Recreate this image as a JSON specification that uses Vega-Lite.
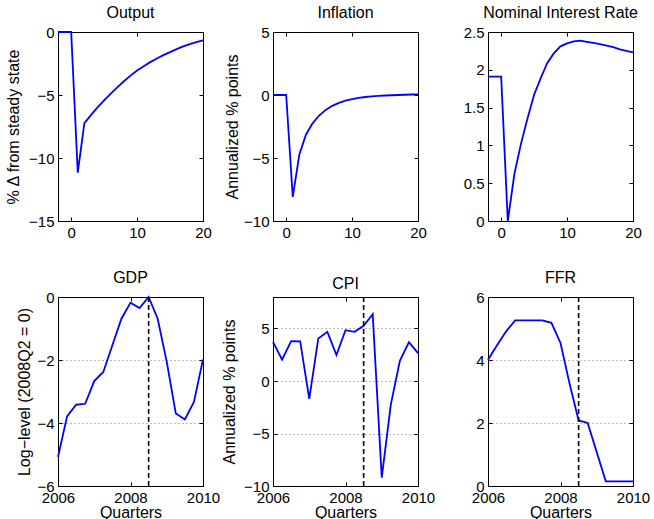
{
  "$schema": "https://vega.github.io/schema/vega-lite/v6.json",
  "padding": {"left": 5, "top": 4, "right": 0, "bottom": 0},
  "background": "white",
  "bounds": "flush",
  "columns": 3,
  "spacing": {"row": 76, "column": 70},
  "datasets": {
    "irf": [
      {"s": "Output", "t": -2, "v": 0}, {"s": "Output", "t": -1, "v": 0}, {"s": "Output", "t": 0, "v": 0},
      {"s": "Output", "t": 1, "v": -11.17}, {"s": "Output", "t": 2, "v": -7.23}, {"s": "Output", "t": 3, "v": -6.6},
      {"s": "Output", "t": 4, "v": -5.98}, {"s": "Output", "t": 5, "v": -5.43}, {"s": "Output", "t": 6, "v": -4.89},
      {"s": "Output", "t": 7, "v": -4.39}, {"s": "Output", "t": 8, "v": -3.91}, {"s": "Output", "t": 9, "v": -3.46},
      {"s": "Output", "t": 10, "v": -3.06}, {"s": "Output", "t": 11, "v": -2.71}, {"s": "Output", "t": 12, "v": -2.39},
      {"s": "Output", "t": 13, "v": -2.1}, {"s": "Output", "t": 14, "v": -1.84}, {"s": "Output", "t": 15, "v": -1.6},
      {"s": "Output", "t": 16, "v": -1.36}, {"s": "Output", "t": 17, "v": -1.14}, {"s": "Output", "t": 18, "v": -0.96},
      {"s": "Output", "t": 19, "v": -0.8}, {"s": "Output", "t": 20, "v": -0.66},
      {"s": "Inflation", "t": -2, "v": 0}, {"s": "Inflation", "t": -1, "v": 0}, {"s": "Inflation", "t": 0, "v": 0},
      {"s": "Inflation", "t": 1, "v": -8.09}, {"s": "Inflation", "t": 2, "v": -4.71}, {"s": "Inflation", "t": 3, "v": -3.15},
      {"s": "Inflation", "t": 4, "v": -2.25}, {"s": "Inflation", "t": 5, "v": -1.63}, {"s": "Inflation", "t": 6, "v": -1.18},
      {"s": "Inflation", "t": 7, "v": -0.86}, {"s": "Inflation", "t": 8, "v": -0.62}, {"s": "Inflation", "t": 9, "v": -0.45},
      {"s": "Inflation", "t": 10, "v": -0.32}, {"s": "Inflation", "t": 11, "v": -0.23}, {"s": "Inflation", "t": 12, "v": -0.16},
      {"s": "Inflation", "t": 13, "v": -0.11}, {"s": "Inflation", "t": 14, "v": -0.07}, {"s": "Inflation", "t": 15, "v": -0.04},
      {"s": "Inflation", "t": 16, "v": -0.02}, {"s": "Inflation", "t": 17, "v": 0.0}, {"s": "Inflation", "t": 18, "v": 0.02},
      {"s": "Inflation", "t": 19, "v": 0.04}, {"s": "Inflation", "t": 20, "v": 0.05},
      {"s": "NIR", "t": -2, "v": 1.91}, {"s": "NIR", "t": -1, "v": 1.91}, {"s": "NIR", "t": 0, "v": 1.91},
      {"s": "NIR", "t": 1, "v": 0.0}, {"s": "NIR", "t": 2, "v": 0.62}, {"s": "NIR", "t": 3, "v": 1.02},
      {"s": "NIR", "t": 4, "v": 1.36}, {"s": "NIR", "t": 5, "v": 1.67}, {"s": "NIR", "t": 6, "v": 1.89},
      {"s": "NIR", "t": 7, "v": 2.09}, {"s": "NIR", "t": 8, "v": 2.22}, {"s": "NIR", "t": 9, "v": 2.31},
      {"s": "NIR", "t": 10, "v": 2.35}, {"s": "NIR", "t": 11, "v": 2.376}, {"s": "NIR", "t": 12, "v": 2.385},
      {"s": "NIR", "t": 13, "v": 2.37}, {"s": "NIR", "t": 14, "v": 2.355}, {"s": "NIR", "t": 15, "v": 2.34},
      {"s": "NIR", "t": 16, "v": 2.32}, {"s": "NIR", "t": 17, "v": 2.3}, {"s": "NIR", "t": 18, "v": 2.27},
      {"s": "NIR", "t": 19, "v": 2.25}, {"s": "NIR", "t": 20, "v": 2.23}
    ],
    "hist": [
      {"s": "GDP", "d": 2006.0, "v": -5.08}, {"s": "GDP", "d": 2006.25, "v": -3.79}, {"s": "GDP", "d": 2006.5, "v": -3.42},
      {"s": "GDP", "d": 2006.75, "v": -3.39}, {"s": "GDP", "d": 2007.0, "v": -2.67}, {"s": "GDP", "d": 2007.25, "v": -2.38},
      {"s": "GDP", "d": 2007.5, "v": -1.53}, {"s": "GDP", "d": 2007.75, "v": -0.69}, {"s": "GDP", "d": 2008.0, "v": -0.18},
      {"s": "GDP", "d": 2008.25, "v": -0.35}, {"s": "GDP", "d": 2008.5, "v": 0.0}, {"s": "GDP", "d": 2008.75, "v": -0.69},
      {"s": "GDP", "d": 2009.0, "v": -2.06}, {"s": "GDP", "d": 2009.25, "v": -3.7}, {"s": "GDP", "d": 2009.5, "v": -3.89},
      {"s": "GDP", "d": 2009.75, "v": -3.33}, {"s": "GDP", "d": 2010.0, "v": -1.98},
      {"s": "CPI", "d": 2006.0, "v": 3.73}, {"s": "CPI", "d": 2006.25, "v": 2.03}, {"s": "CPI", "d": 2006.5, "v": 3.8},
      {"s": "CPI", "d": 2006.75, "v": 3.77}, {"s": "CPI", "d": 2007.0, "v": -1.71}, {"s": "CPI", "d": 2007.25, "v": 4.05},
      {"s": "CPI", "d": 2007.5, "v": 4.68}, {"s": "CPI", "d": 2007.75, "v": 2.47}, {"s": "CPI", "d": 2008.0, "v": 4.84},
      {"s": "CPI", "d": 2008.25, "v": 4.68}, {"s": "CPI", "d": 2008.5, "v": 5.25}, {"s": "CPI", "d": 2008.75, "v": 6.36},
      {"s": "CPI", "d": 2009.0, "v": -9.2}, {"s": "CPI", "d": 2009.25, "v": -2.25}, {"s": "CPI", "d": 2009.5, "v": 1.93},
      {"s": "CPI", "d": 2009.75, "v": 3.7}, {"s": "CPI", "d": 2010.0, "v": 2.66},
      {"s": "FFR", "d": 2006.0, "v": 4.01}, {"s": "FFR", "d": 2006.25, "v": 4.47}, {"s": "FFR", "d": 2006.5, "v": 4.91},
      {"s": "FFR", "d": 2006.75, "v": 5.26}, {"s": "FFR", "d": 2007.0, "v": 5.26}, {"s": "FFR", "d": 2007.25, "v": 5.26},
      {"s": "FFR", "d": 2007.5, "v": 5.26}, {"s": "FFR", "d": 2007.75, "v": 5.18}, {"s": "FFR", "d": 2008.0, "v": 4.54},
      {"s": "FFR", "d": 2008.25, "v": 3.25}, {"s": "FFR", "d": 2008.5, "v": 2.08}, {"s": "FFR", "d": 2008.75, "v": 2.0},
      {"s": "FFR", "d": 2009.0, "v": 1.07}, {"s": "FFR", "d": 2009.25, "v": 0.15}, {"s": "FFR", "d": 2009.5, "v": 0.15},
      {"s": "FFR", "d": 2009.75, "v": 0.15}, {"s": "FFR", "d": 2010.0, "v": 0.15}
    ]
  },
  "concat": [
    {
      "title": {"text": "Output"},
      "width": 145, "height": 189,
      "data": {"name": "irf"},
      "transform": [{"filter": "datum.s === 'Output'"}],
      "layer": [
        {"mark": {"type": "line", "color": "#0000ff", "strokeWidth": 1.8},
         "encoding": {
           "x": {"field": "t", "type": "quantitative", "scale": {"domain": [-2, 20], "nice": false, "zero": false}, "axis": {"values": [0, 10, 20], "title": null, "format": "~r"}},
           "y": {"field": "v", "type": "quantitative", "scale": {"domain": [-15, 0], "nice": false}, "axis": {"values": [-15, -10, -5, 0], "format": "~r", "title": "% Δ from steady state", "titlePadding": 7}}
         }},
        {"mark": {"type": "line", "opacity": 0},
         "encoding": {
           "x": {"field": "t", "type": "quantitative", "scale": {"domain": [-2, 20], "nice": false, "zero": false}, "axis": {"orient": "top", "values": [0, 10, 20], "labels": false, "title": null}},
           "y": {"field": "v", "type": "quantitative", "scale": {"domain": [-15, 0], "nice": false}, "axis": {"orient": "right", "values": [-15, -10, -5, 0], "labels": false, "title": null}}
         }}
      ],
      "resolve": {"axis": {"x": "independent", "y": "independent"}}
    },
    {
      "title": {"text": "Inflation"},
      "width": 145, "height": 189,
      "data": {"name": "irf"},
      "transform": [{"filter": "datum.s === 'Inflation'"}],
      "layer": [
        {"mark": {"type": "line", "color": "#0000ff", "strokeWidth": 1.8},
         "encoding": {
           "x": {"field": "t", "type": "quantitative", "scale": {"domain": [-2, 20], "nice": false, "zero": false}, "axis": {"values": [0, 10, 20], "title": null, "format": "~r"}},
           "y": {"field": "v", "type": "quantitative", "scale": {"domain": [-10, 5], "nice": false}, "axis": {"values": [-10, -5, 0, 5], "format": "~r", "title": "Annualized % points", "titlePadding": 3}}
         }},
        {"mark": {"type": "line", "opacity": 0},
         "encoding": {
           "x": {"field": "t", "type": "quantitative", "scale": {"domain": [-2, 20], "nice": false, "zero": false}, "axis": {"orient": "top", "values": [0, 10, 20], "labels": false, "title": null}},
           "y": {"field": "v", "type": "quantitative", "scale": {"domain": [-10, 5], "nice": false}, "axis": {"orient": "right", "values": [-10, -5, 0, 5], "labels": false, "title": null}}
         }}
      ],
      "resolve": {"axis": {"x": "independent", "y": "independent"}}
    },
    {
      "title": {"text": "Nominal Interest Rate"},
      "width": 145, "height": 189,
      "data": {"name": "irf"},
      "transform": [{"filter": "datum.s === 'NIR'"}],
      "layer": [
        {"mark": {"type": "line", "color": "#0000ff", "strokeWidth": 1.8},
         "encoding": {
           "x": {"field": "t", "type": "quantitative", "scale": {"domain": [-2, 20], "nice": false, "zero": false}, "axis": {"values": [0, 10, 20], "title": null, "format": "~r"}},
           "y": {"field": "v", "type": "quantitative", "scale": {"domain": [0, 2.5], "nice": false}, "axis": {"values": [0, 0.5, 1, 1.5, 2, 2.5], "format": "~r", "title": null}}
         }},
        {"mark": {"type": "line", "opacity": 0},
         "encoding": {
           "x": {"field": "t", "type": "quantitative", "scale": {"domain": [-2, 20], "nice": false, "zero": false}, "axis": {"orient": "top", "values": [0, 10, 20], "labels": false, "title": null}},
           "y": {"field": "v", "type": "quantitative", "scale": {"domain": [0, 2.5], "nice": false}, "axis": {"orient": "right", "values": [0, 0.5, 1, 1.5, 2, 2.5], "labels": false, "title": null}}
         }}
      ],
      "resolve": {"axis": {"x": "independent", "y": "independent"}}
    },
    {
      "title": {"text": "GDP"},
      "width": 145, "height": 189,
      "data": {"name": "hist"},
      "layer": [
        {"transform": [{"filter": "datum.s === 'GDP'"}],
         "mark": {"type": "line", "color": "#0000ff", "strokeWidth": 1.8},
         "encoding": {
           "x": {"field": "d", "type": "quantitative", "scale": {"domain": [2006, 2010], "nice": false, "zero": false}, "axis": {"values": [2006, 2008, 2010], "format": "d", "title": "Quarters", "titlePadding": -1}},
           "y": {"field": "v", "type": "quantitative", "scale": {"domain": [-6, 0], "nice": false}, "axis": {"values": [-6, -4, -2, 0], "format": "~r", "grid": true, "title": "Log−level (2008Q2 = 0)", "titlePadding": 4}}
         }},
        {"transform": [{"filter": "datum.s === 'GDP'"}],
         "mark": {"type": "line", "opacity": 0},
         "encoding": {
           "x": {"field": "d", "type": "quantitative", "scale": {"domain": [2006, 2010], "nice": false, "zero": false}, "axis": {"orient": "top", "values": [2006, 2008, 2010], "labels": false, "title": null}},
           "y": {"field": "v", "type": "quantitative", "scale": {"domain": [-6, 0], "nice": false}, "axis": {"orient": "right", "values": [-6, -4, -2, 0], "labels": false, "title": null}}
         }},
        {"data": {"values": [{"d": 2008.5}]},
         "mark": {"type": "rule", "color": "black", "strokeDash": [5, 3], "strokeWidth": 1.6},
         "encoding": {"x": {"field": "d", "type": "quantitative", "scale": {"domain": [2006, 2010], "nice": false, "zero": false}, "axis": null}}}
      ],
      "resolve": {"axis": {"x": "independent", "y": "independent"}}
    },
    {
      "title": {"text": "CPI"},
      "width": 145, "height": 189,
      "data": {"name": "hist"},
      "layer": [
        {"transform": [{"filter": "datum.s === 'CPI'"}],
         "mark": {"type": "line", "color": "#0000ff", "strokeWidth": 1.8},
         "encoding": {
           "x": {"field": "d", "type": "quantitative", "scale": {"domain": [2006, 2010], "nice": false, "zero": false}, "axis": {"values": [2006, 2008, 2010], "format": "d", "title": "Quarters", "titlePadding": -1}},
           "y": {"field": "v", "type": "quantitative", "scale": {"domain": [-10, 8], "nice": false}, "axis": {"values": [-10, -5, 0, 5], "format": "~r", "grid": true, "title": "Annualized % points", "titlePadding": 6}}
         }},
        {"transform": [{"filter": "datum.s === 'CPI'"}],
         "mark": {"type": "line", "opacity": 0},
         "encoding": {
           "x": {"field": "d", "type": "quantitative", "scale": {"domain": [2006, 2010], "nice": false, "zero": false}, "axis": {"orient": "top", "values": [2006, 2008, 2010], "labels": false, "title": null}},
           "y": {"field": "v", "type": "quantitative", "scale": {"domain": [-10, 8], "nice": false}, "axis": {"orient": "right", "values": [-10, -5, 0, 5], "labels": false, "title": null}}
         }},
        {"data": {"values": [{"d": 2008.5}]},
         "mark": {"type": "rule", "color": "black", "strokeDash": [5, 3], "strokeWidth": 1.6},
         "encoding": {"x": {"field": "d", "type": "quantitative", "scale": {"domain": [2006, 2010], "nice": false, "zero": false}, "axis": null}}}
      ],
      "resolve": {"axis": {"x": "independent", "y": "independent"}}
    },
    {
      "title": {"text": "FFR"},
      "width": 145, "height": 189,
      "data": {"name": "hist"},
      "layer": [
        {"transform": [{"filter": "datum.s === 'FFR'"}],
         "mark": {"type": "line", "color": "#0000ff", "strokeWidth": 1.8},
         "encoding": {
           "x": {"field": "d", "type": "quantitative", "scale": {"domain": [2006, 2010], "nice": false, "zero": false}, "axis": {"values": [2006, 2008, 2010], "format": "d", "title": "Quarters", "titlePadding": -1}},
           "y": {"field": "v", "type": "quantitative", "scale": {"domain": [0, 6], "nice": false}, "axis": {"values": [0, 2, 4, 6], "format": "~r", "grid": true, "title": null}}
         }},
        {"transform": [{"filter": "datum.s === 'FFR'"}],
         "mark": {"type": "line", "opacity": 0},
         "encoding": {
           "x": {"field": "d", "type": "quantitative", "scale": {"domain": [2006, 2010], "nice": false, "zero": false}, "axis": {"orient": "top", "values": [2006, 2008, 2010], "labels": false, "title": null}},
           "y": {"field": "v", "type": "quantitative", "scale": {"domain": [0, 6], "nice": false}, "axis": {"orient": "right", "values": [0, 2, 4, 6], "labels": false, "title": null}}
         }},
        {"data": {"values": [{"d": 2008.5}]},
         "mark": {"type": "rule", "color": "black", "strokeDash": [5, 3], "strokeWidth": 1.6},
         "encoding": {"x": {"field": "d", "type": "quantitative", "scale": {"domain": [2006, 2010], "nice": false, "zero": false}, "axis": null}}}
      ],
      "resolve": {"axis": {"x": "independent", "y": "independent"}}
    }
  ],
  "config": {
    "font": "Liberation Sans",
    "view": {"stroke": "black", "strokeWidth": 1},
    "axis": {
      "domainColor": "black", "domainWidth": 1,
      "tickColor": "black", "tickWidth": 1, "tickSize": -4,
      "labelPadding": 8, "labelFontSize": 15, "labelColor": "black", "labelFont": "Liberation Sans",
      "labelFlush": false, "labelOverlap": false,
      "titleFontSize": 16, "titleFontWeight": "normal", "titleColor": "black", "titleFont": "Liberation Sans",
      "titlePadding": 1,
      "grid": false, "gridColor": "#777777", "gridDash": [1, 3], "gridWidth": 1
    },
    "title": {"fontSize": 16, "fontWeight": "normal", "color": "black", "font": "Liberation Sans", "offset": 4, "baseline": "alphabetic"}
  }
}
